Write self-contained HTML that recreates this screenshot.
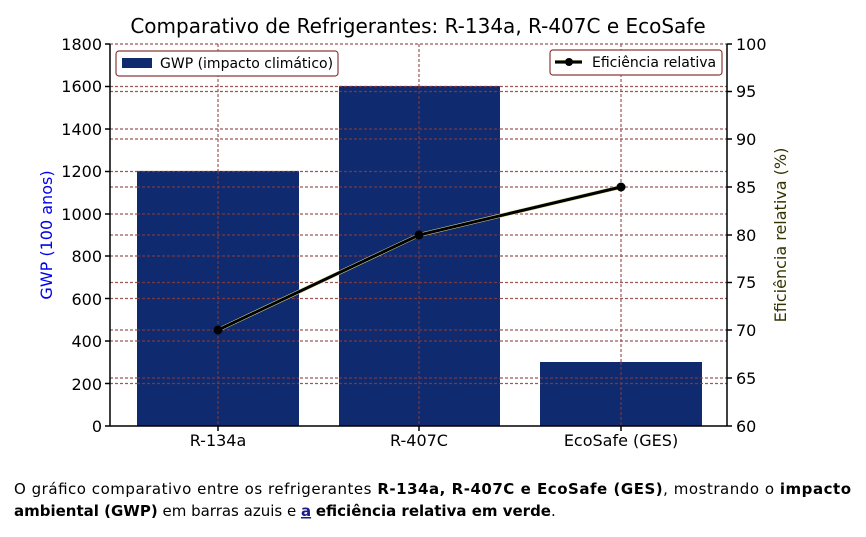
<!DOCTYPE html>
<html><head><meta charset="utf-8"><style>
body{margin:0;background:#fff;width:866px;height:537px;overflow:hidden;font-family:"DejaVu Sans","Liberation Sans",sans-serif;}
</style></head><body>
<svg width="866" height="537" xmlns="http://www.w3.org/2000/svg" style="position:absolute;left:0;top:0">
<text x="418" y="33" font-size="20" text-anchor="middle" fill="#000">Comparativo de Refrigerantes: R-134a, R-407C e EcoSafe</text>
<g stroke="#8b3a3a" stroke-width="1.2" stroke-dasharray="3,2" opacity="0.85">
<line x1="110" x2="727" y1="44" y2="44"/><line x1="110" x2="727" y1="86.5" y2="86.5"/><line x1="110" x2="727" y1="129" y2="129"/><line x1="110" x2="727" y1="171.5" y2="171.5"/><line x1="110" x2="727" y1="214" y2="214"/><line x1="110" x2="727" y1="256" y2="256"/><line x1="110" x2="727" y1="298.5" y2="298.5"/><line x1="110" x2="727" y1="341" y2="341"/><line x1="110" x2="727" y1="383.5" y2="383.5"/>
<line x1="110" x2="727" y1="91.5" y2="91.5"/><line x1="110" x2="727" y1="139" y2="139"/><line x1="110" x2="727" y1="187" y2="187"/><line x1="110" x2="727" y1="235" y2="235"/><line x1="110" x2="727" y1="282.5" y2="282.5"/><line x1="110" x2="727" y1="330" y2="330"/><line x1="110" x2="727" y1="378" y2="378"/>
<line x1="218" x2="218" y1="44" y2="426"/><line x1="419" x2="419" y1="44" y2="426"/><line x1="621" x2="621" y1="44" y2="426"/>
</g>
<g fill="#0f2a6e">
<rect x="137" y="171" width="162" height="255"/><rect x="339" y="86" width="161" height="340"/><rect x="540" y="362" width="162" height="64"/>
</g>
<g stroke="#8b3a3a" stroke-width="1.2" stroke-dasharray="3,2" opacity="0.85">
<line x1="218" x2="218" y1="171" y2="426"/><line x1="419" x2="419" y1="86" y2="426"/><line x1="621" x2="621" y1="362" y2="426"/>
<line x1="137" x2="299" y1="171.5" y2="171.5"/><line x1="137" x2="299" y1="214" y2="214"/><line x1="137" x2="299" y1="256" y2="256"/><line x1="137" x2="299" y1="298.5" y2="298.5"/><line x1="137" x2="299" y1="341" y2="341"/><line x1="137" x2="299" y1="383.5" y2="383.5"/><line x1="137" x2="299" y1="187" y2="187"/><line x1="137" x2="299" y1="235" y2="235"/><line x1="137" x2="299" y1="282.5" y2="282.5"/><line x1="137" x2="299" y1="330" y2="330"/><line x1="137" x2="299" y1="378" y2="378"/>
<line x1="339" x2="500" y1="86.5" y2="86.5"/><line x1="339" x2="500" y1="91.5" y2="91.5"/><line x1="339" x2="500" y1="129" y2="129"/><line x1="339" x2="500" y1="139" y2="139"/><line x1="339" x2="500" y1="171.5" y2="171.5"/><line x1="339" x2="500" y1="187" y2="187"/><line x1="339" x2="500" y1="214" y2="214"/><line x1="339" x2="500" y1="235" y2="235"/><line x1="339" x2="500" y1="256" y2="256"/><line x1="339" x2="500" y1="282.5" y2="282.5"/><line x1="339" x2="500" y1="298.5" y2="298.5"/><line x1="339" x2="500" y1="330" y2="330"/><line x1="339" x2="500" y1="341" y2="341"/><line x1="339" x2="500" y1="378" y2="378"/><line x1="339" x2="500" y1="383.5" y2="383.5"/>
<line x1="540" x2="702" y1="378" y2="378"/><line x1="540" x2="702" y1="383.5" y2="383.5"/>
</g>
<polyline points="218,330 419,235 621,187" fill="none" stroke="#d8dc90" stroke-width="4"/>
<polyline points="218,330 419,235 621,187" fill="none" stroke="#000" stroke-width="3"/>
<circle cx="218" cy="330" r="4.5" fill="#000"/><circle cx="419" cy="235" r="4.5" fill="#000"/><circle cx="621" cy="187" r="4.5" fill="#000"/>
<g stroke="#000" stroke-width="1.5">
<line x1="110" x2="110" y1="44" y2="426"/><line x1="727" x2="727" y1="44" y2="426"/><line x1="110" x2="727" y1="426" y2="426"/>
<line x1="105" x2="110" y1="44" y2="44"/><line x1="105" x2="110" y1="86.5" y2="86.5"/><line x1="105" x2="110" y1="129" y2="129"/><line x1="105" x2="110" y1="171.5" y2="171.5"/><line x1="105" x2="110" y1="214" y2="214"/><line x1="105" x2="110" y1="256" y2="256"/><line x1="105" x2="110" y1="298.5" y2="298.5"/><line x1="105" x2="110" y1="341" y2="341"/><line x1="105" x2="110" y1="383.5" y2="383.5"/><line x1="105" x2="110" y1="426" y2="426"/>
<line x1="727" x2="732" y1="44" y2="44"/><line x1="727" x2="732" y1="91.5" y2="91.5"/><line x1="727" x2="732" y1="139" y2="139"/><line x1="727" x2="732" y1="187" y2="187"/><line x1="727" x2="732" y1="235" y2="235"/><line x1="727" x2="732" y1="282.5" y2="282.5"/><line x1="727" x2="732" y1="330" y2="330"/><line x1="727" x2="732" y1="378" y2="378"/><line x1="727" x2="732" y1="426" y2="426"/>
<line x1="218" x2="218" y1="426" y2="431"/><line x1="419" x2="419" y1="426" y2="431"/><line x1="621" x2="621" y1="426" y2="431"/>
</g>
<g font-size="16" fill="#000" text-anchor="end">
<text x="102" y="50">1800</text><text x="102" y="92">1600</text><text x="102" y="135">1400</text><text x="102" y="177">1200</text><text x="102" y="220">1000</text><text x="102" y="262">800</text><text x="102" y="305">600</text><text x="102" y="347">400</text><text x="102" y="390">200</text><text x="102" y="432">0</text>
</g>
<g font-size="16" fill="#000">
<text x="736" y="50">100</text><text x="736" y="97">95</text><text x="736" y="145">90</text><text x="736" y="193">85</text><text x="736" y="241">80</text><text x="736" y="288">75</text><text x="736" y="336">70</text><text x="736" y="384">65</text><text x="736" y="432">60</text>
</g>
<g font-size="16" fill="#000" text-anchor="middle">
<text x="218" y="446">R-134a</text><text x="419" y="446">R-407C</text><text x="621" y="446">EcoSafe (GES)</text>
</g>
<text transform="translate(52,235) rotate(-90)" font-size="16" fill="#0000ee" text-anchor="middle">GWP (100 anos)</text>
<text transform="translate(786,235) rotate(-90)" font-size="16" fill="#333300" text-anchor="middle">Eficiência relativa (%)</text>
<rect x="116" y="51" width="222" height="25" rx="3" fill="#fff" stroke="#8b3a3a" stroke-width="1.2"/>
<rect x="122" y="58" width="30" height="10" fill="#0f2a6e"/>
<text x="160" y="68" font-size="14" fill="#000">GWP (impacto climático)</text>
<rect x="550" y="50" width="172" height="25" rx="3" fill="#fff" stroke="#8b3a3a" stroke-width="1.2"/>
<line x1="555" x2="582" y1="62" y2="62" stroke="#d8dc90" stroke-width="4"/>
<line x1="555" x2="582" y1="62" y2="62" stroke="#000" stroke-width="3"/>
<circle cx="569" cy="62" r="4" fill="#000"/>
<text x="592" y="67" font-size="14" fill="#000">Eficiência relativa</text>
<g font-size="15" fill="#000">
<text x="14" y="494" textLength="837" lengthAdjust="spacing">O gráfico comparativo entre os refrigerantes <tspan font-weight="bold">R-134a, R-407C e EcoSafe (GES)</tspan>, mostrando o <tspan font-weight="bold">impacto</tspan></text>
<text x="14" y="516"><tspan font-weight="bold">ambiental (GWP)</tspan> em barras azuis e <tspan font-weight="bold" fill="#1a1a8a" text-decoration="underline">a</tspan> <tspan font-weight="bold">eficiência relativa em verde</tspan>.</text>
</g>
</svg>
</body></html>
